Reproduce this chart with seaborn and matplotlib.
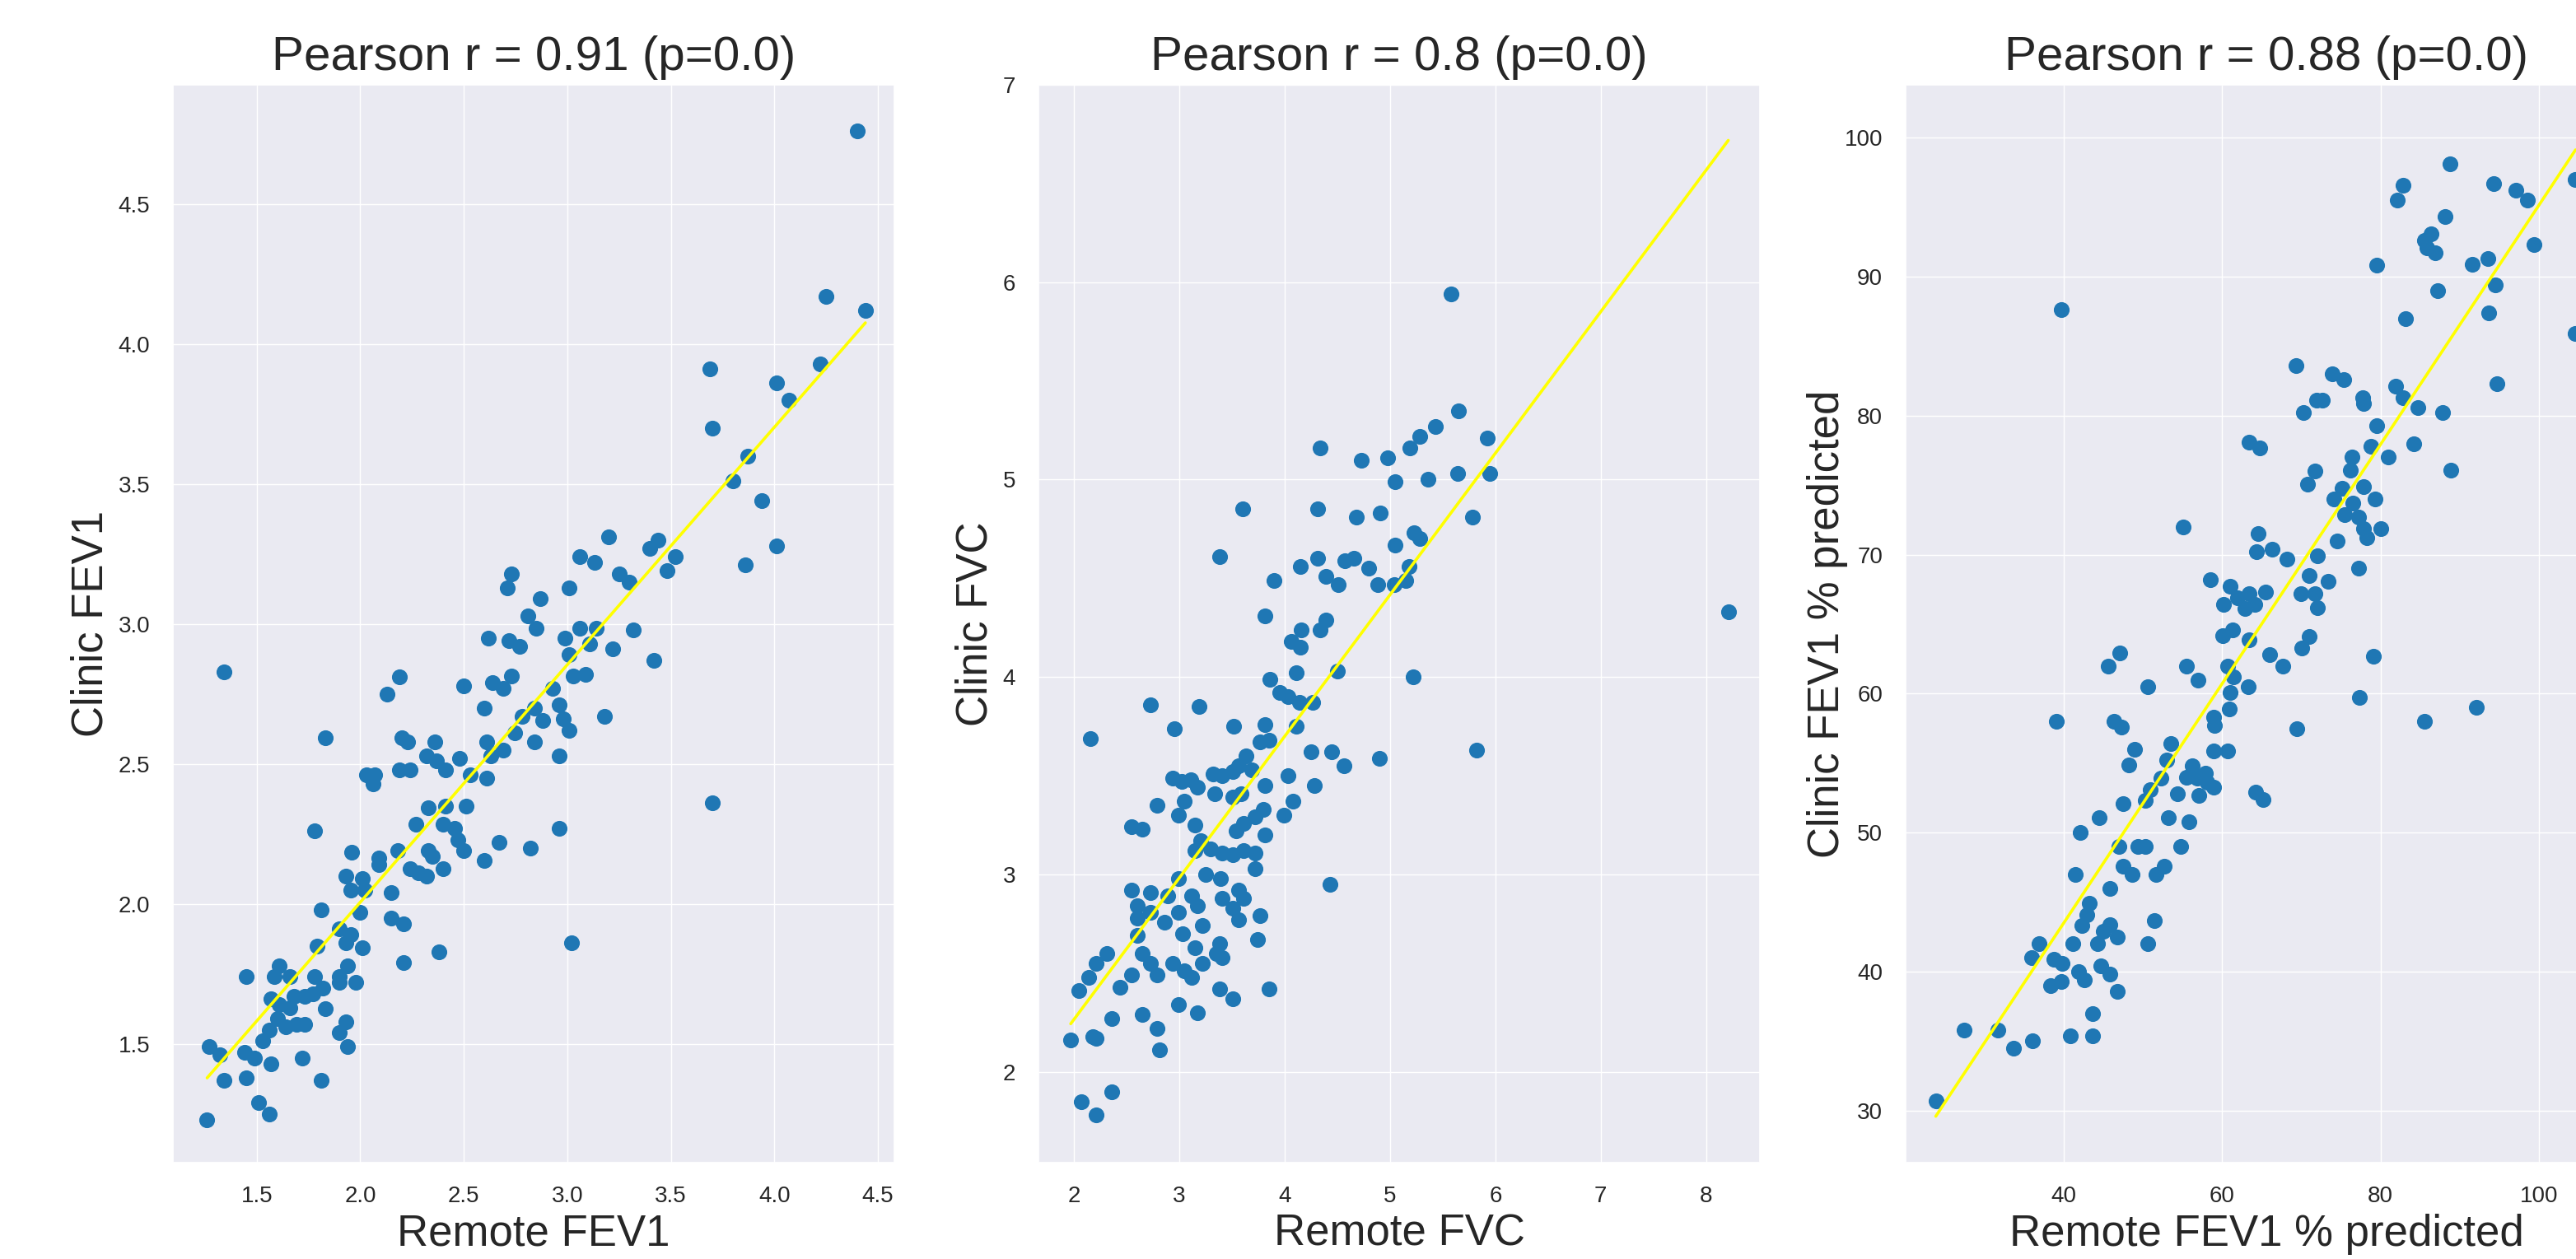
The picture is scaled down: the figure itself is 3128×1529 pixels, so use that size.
import numpy as np
import matplotlib.pyplot as plt
import seaborn as sns
from matplotlib.ticker import MultipleLocator

# FEV1 (litres): remote vs clinic
remote_fev1 = [1.34, 2.19, 2.13, 2.50, 2.60, 2.64, 2.69, 2.73, 2.61, 2.69, 2.63, 2.745, 2.78, 2.84,
               2.88, 2.84, 2.93, 2.96, 2.98, 3.01, 2.96, 3.03, 3.01, 3.09, 2.96, 3.02, 2.82, 2.67,
               2.60, 2.61, 2.51, 2.50, 2.455, 2.41, 2.40, 2.47, 2.40, 2.48, 2.53, 2.41, 2.36, 2.32,
               2.37, 2.33, 2.27, 2.33, 2.35, 2.32, 2.28, 2.24, 2.18, 2.15, 2.15, 2.21, 2.21, 2.38,
               2.19, 2.24, 2.20, 2.23, 2.03, 2.07, 2.06, 2.09, 2.09, 2.01, 1.96, 1.93, 1.955, 2.02,
               2.00, 1.90, 1.955, 1.93, 2.01, 1.94, 1.90, 1.90, 1.98, 1.82, 1.78, 1.77, 1.73, 1.79,
               1.81, 1.78, 1.83, 1.61, 1.585, 1.66, 1.57, 1.61, 1.66, 1.68, 1.83, 1.60, 1.56, 1.64,
               1.69, 1.73, 1.53, 1.45, 1.93, 1.90, 1.94, 1.27, 1.32, 1.44, 1.49, 1.57, 1.72, 1.34,
               1.45, 1.81, 1.51, 1.56, 1.26,
               4.40, 4.25, 4.44, 4.22, 3.69, 4.01, 4.07, 3.70, 3.87, 3.80, 3.94, 4.01, 3.86, 3.20,
               3.06, 3.13, 3.40, 3.44, 3.52, 3.48, 3.25, 3.30, 3.01, 2.73, 2.71, 2.87, 2.81, 2.85,
               2.62, 2.72, 2.77, 2.99, 3.06, 3.14, 3.11, 3.32, 3.22, 3.42, 3.18, 3.70]
clinic_fev1 = [2.83, 2.81, 2.75, 2.78, 2.70, 2.79, 2.77, 2.815, 2.58, 2.55, 2.53, 2.61, 2.67, 2.70,
               2.655, 2.58, 2.77, 2.71, 2.66, 2.62, 2.53, 2.815, 2.89, 2.82, 2.27, 1.86, 2.20, 2.22,
               2.155, 2.45, 2.35, 2.19, 2.27, 2.35, 2.285, 2.23, 2.125, 2.52, 2.46, 2.48, 2.58, 2.53,
               2.51, 2.345, 2.285, 2.19, 2.17, 2.10, 2.11, 2.125, 2.19, 2.04, 1.95, 1.93, 1.79, 1.83,
               2.48, 2.48, 2.595, 2.58, 2.46, 2.46, 2.43, 2.14, 2.165, 2.09, 2.185, 2.10, 2.05, 2.05,
               1.97, 1.91, 1.89, 1.86, 1.845, 1.78, 1.74, 1.72, 1.72, 1.70, 1.74, 1.68, 1.67, 1.85,
               1.98, 2.26, 2.595, 1.78, 1.74, 1.74, 1.66, 1.64, 1.63, 1.67, 1.625, 1.59, 1.55, 1.56,
               1.57, 1.57, 1.51, 1.74, 1.58, 1.54, 1.49, 1.49, 1.46, 1.47, 1.45, 1.43, 1.45, 1.37,
               1.38, 1.37, 1.29, 1.25, 1.23,
               4.76, 4.17, 4.12, 3.93, 3.91, 3.86, 3.80, 3.70, 3.60, 3.51, 3.44, 3.28, 3.21, 3.31,
               3.24, 3.22, 3.27, 3.30, 3.24, 3.19, 3.18, 3.15, 3.13, 3.18, 3.13, 3.09, 3.03, 2.985,
               2.95, 2.94, 2.92, 2.95, 2.985, 2.985, 2.93, 2.98, 2.91, 2.87, 2.67, 2.36]

# FVC (litres): remote vs clinic
remote_fvc = [2.16, 2.73, 3.19, 2.95, 3.52, 3.81, 3.85, 3.77, 3.63, 3.56, 3.69, 3.32, 3.41, 3.51,
              2.94, 3.02, 3.11, 3.17, 3.05, 3.34, 3.51, 3.59, 3.81, 4.03, 4.11, 4.11, 3.86, 3.95,
              4.03, 4.14, 4.27, 4.06, 4.15, 4.16, 4.34, 4.50, 4.25, 4.45, 4.56, 4.28, 4.08, 3.99,
              4.90, 5.22, 4.43, 2.79, 2.99, 3.15, 2.55, 2.65, 3.20, 3.15, 3.30, 3.41, 3.51, 3.61,
              3.72, 3.72, 3.54, 3.61, 3.72, 3.80, 3.81, 2.99, 3.25, 3.39, 2.55, 2.73, 2.89, 2.60,
              2.60, 2.73, 2.86, 2.99, 3.12, 3.17, 3.22, 3.03, 3.41, 3.56, 3.61, 3.51, 3.56, 3.77,
              3.74, 3.38, 3.35, 3.41, 3.15, 3.22, 3.05, 3.12, 2.94, 2.79, 2.73, 2.65, 2.60, 2.31,
              2.21, 2.14, 2.05, 2.44, 2.55, 3.38, 3.51, 3.85, 2.99, 3.17, 2.36, 2.65, 2.79, 2.81,
              1.97, 2.18, 2.21, 2.07, 2.36, 2.21,
              5.58, 5.65, 5.43, 5.28, 5.19, 5.92, 4.73, 4.98, 4.34, 5.05, 5.36, 5.64, 5.95, 4.31,
              4.68, 4.91, 5.78, 5.05, 5.23, 5.28, 4.31, 4.57, 4.66, 4.80, 4.88, 5.04, 5.15, 5.18,
              4.39, 4.51, 8.21,
              3.60, 3.38, 3.90, 4.15, 3.81, 4.39, 5.82]
clinic_fvc = [3.69, 3.86, 3.85, 3.74, 3.75, 3.76, 3.68, 3.67, 3.60, 3.55, 3.53, 3.51, 3.50, 3.52,
              3.49, 3.47, 3.48, 3.44, 3.37, 3.41, 3.39, 3.41, 3.45, 3.50, 3.75, 4.02, 3.99, 3.92,
              3.90, 3.87, 3.87, 4.18, 4.15, 4.24, 4.24, 4.03, 3.62, 3.62, 3.55, 3.45, 3.37, 3.30,
              3.59, 4.00, 2.95, 3.35, 3.30, 3.25, 3.24, 3.23, 3.17, 3.12, 3.13, 3.11, 3.10, 3.12,
              3.11, 3.03, 3.22, 3.26, 3.29, 3.33, 3.20, 2.98, 3.00, 2.98, 2.92, 2.91, 2.89, 2.84,
              2.78, 2.81, 2.76, 2.81, 2.89, 2.84, 2.74, 2.70, 2.88, 2.92, 2.88, 2.83, 2.77, 2.79,
              2.67, 2.65, 2.60, 2.58, 2.63, 2.55, 2.51, 2.48, 2.55, 2.49, 2.55, 2.60, 2.69, 2.60,
              2.55, 2.48, 2.41, 2.43, 2.49, 2.42, 2.37, 2.42, 2.34, 2.30, 2.27, 2.29, 2.22, 2.11,
              2.16, 2.18, 2.17, 1.85, 1.90, 1.78,
              5.94, 5.35, 5.27, 5.22, 5.16, 5.21, 5.10, 5.11, 5.16, 4.99, 5.00, 5.03, 5.03, 4.85,
              4.81, 4.83, 4.81, 4.67, 4.73, 4.70, 4.60, 4.59, 4.60, 4.55, 4.47, 4.47, 4.49, 4.56,
              4.51, 4.47, 4.33,
              4.85, 4.61, 4.49, 4.56, 4.31, 4.29, 3.63]

# FEV1 % predicted: remote vs clinic
remote_pct = [23.9, 27.5, 31.7, 33.7, 36.1, 40.9, 43.7, 43.7, 36.9, 36.0, 38.4, 39.7, 38.8, 39.8,
              41.2, 41.9, 42.6, 44.3, 44.7, 45.9, 46.8, 42.3, 43.0, 43.3, 45.0, 45.9, 46.8, 50.6,
              51.5, 41.5, 45.9, 47.5, 48.7, 51.7, 52.7, 47.0, 49.4, 50.3, 54.8, 42.1, 44.5, 47.5,
              50.3, 51.0, 53.2, 55.8, 54.4, 52.3, 53.0, 53.6, 56.2, 55.5, 56.9, 57.9, 59.0, 57.1,
              58.1, 64.3, 65.2, 59.0, 60.7, 59.0, 59.1, 60.9, 61.0, 63.3, 60.7, 61.4, 46.4, 47.3,
              49.0, 48.3, 50.6, 45.7, 47.1, 55.5, 57.0, 39.1, 67.7, 69.4,
              88.8, 82.8, 82.1, 94.3, 97.1, 98.5, 88.1, 85.5, 86.4, 86.9, 85.9, 99.4, 91.6, 93.5,
              79.5, 94.5, 87.2, 93.6, 83.2, 94.7, 104.6, 104.6, 69.3, 73.9, 75.4, 71.9, 72.7, 70.3,
              77.8, 77.9, 81.9, 82.8, 84.7, 87.8, 79.5, 78.8, 81.0, 84.2, 88.9, 63.4, 64.8, 71.7,
              70.8, 76.4, 76.2, 77.9, 75.2, 74.1, 76.5, 79.3, 75.5, 77.2, 77.9, 78.3, 80.0, 74.5,
              64.6, 64.4, 66.3, 68.2, 55.1, 72.0, 71.0, 73.4, 77.2, 58.5, 61.0, 60.2, 62.0, 63.4,
              65.5, 62.9, 64.1, 60.1, 61.3, 63.4, 70.0, 71.7, 72.0, 71.0, 70.1, 66.0, 79.1,
              39.7, 77.3, 92.1, 85.5]
clinic_pct = [30.7, 35.8, 35.8, 34.5, 35.0, 35.4, 35.4, 37.0, 42.0, 41.0, 39.0, 39.3, 40.9, 40.6,
              42.0, 40.0, 39.4, 42.0, 40.4, 39.8, 38.6, 43.3, 44.1, 44.9, 42.9, 43.4, 42.5, 42.0,
              43.7, 47.0, 46.0, 47.6, 47.0, 47.0, 47.6, 49.0, 49.0, 49.0, 49.0, 50.0, 51.1, 52.1,
              52.3, 53.1, 51.1, 50.8, 52.8, 53.9, 55.2, 56.4, 54.8, 54.0, 53.9, 54.3, 53.3, 52.7,
              53.6, 52.9, 52.4, 55.9, 55.9, 58.3, 57.7, 58.9, 60.1, 60.5, 62.0, 61.2, 58.0, 57.6,
              56.0, 54.9, 60.5, 62.0, 62.9, 62.0, 61.0, 58.0, 62.0, 57.5,
              98.1, 96.6, 95.5, 96.7, 96.2, 95.5, 94.3, 92.6, 93.1, 91.7, 92.1, 92.3, 90.9, 91.3,
              90.8, 89.4, 89.0, 87.4, 87.0, 82.3, 97.0, 85.9, 83.6, 83.0, 82.6, 81.1, 81.1, 80.2,
              81.3, 80.9, 82.1, 81.3, 80.6, 80.2, 79.3, 77.8, 77.0, 78.0, 76.1, 78.1, 77.7, 76.0,
              75.1, 77.0, 76.1, 74.9, 74.8, 74.0, 73.7, 74.0, 72.9, 72.7, 71.9, 71.2, 71.9, 71.0,
              71.5, 70.2, 70.4, 69.7, 72.0, 69.9, 68.5, 68.1, 69.0, 68.2, 67.7, 66.4, 66.9, 67.2,
              67.3, 66.1, 66.4, 64.2, 64.6, 63.9, 67.2, 67.2, 66.2, 64.1, 63.3, 62.8, 62.7,
              87.6, 59.7, 59.0, 58.0]

titles = ['Pearson r = 0.91 (p=0.0)', 'Pearson r = 0.8 (p=0.0)', 'Pearson r = 0.88 (p=0.0)']
xlabels = ['Remote FEV1', 'Remote FVC', 'Remote FEV1 % predicted']
ylabels = ['Clinic FEV1', 'Clinic FVC', 'Clinic FEV1 % predicted']

sns.set_theme(style='darkgrid')
plt.rcParams['font.family'] = ['Liberation Sans', 'DejaVu Sans']

fig = plt.figure(figsize=(31.28, 15.29), dpi=100)
W, H = 3128, 1529
lefts = [210, 1261, 2314]
axes = [fig.add_axes([l / W, 117 / H, 876 / W, 1309 / H]) for l in lefts]

panels = [(remote_fev1, clinic_fev1), (remote_fvc, clinic_fvc), (remote_pct, clinic_pct)]
xlims = [(1.095, 4.58), (1.664, 8.51), (20.1, 111.1)]
ylims = [(1.076, 4.926), (1.54, 7.0), (26.26, 103.8)]
xsteps = [0.5, 1, 20]
ysteps = [0.5, 1, 10]
ylab_x = [-0.085, -0.059, -0.080]

for i, ax in enumerate(axes):
    x, y = np.array(panels[i][0]), np.array(panels[i][1])
    sns.scatterplot(x=x, y=y, ax=ax, color='#1f77b4', s=190, linewidth=0)
    # least squares fit line across the data range
    m, b = np.polyfit(x, y, 1)
    xs = np.array([x.min(), x.max()])
    ax.plot(xs, m * xs + b, color='yellow', lw=2.6)
    ax.set_xlim(xlims[i])
    ax.set_ylim(ylims[i])
    ax.xaxis.set_major_locator(MultipleLocator(xsteps[i]))
    ax.yaxis.set_major_locator(MultipleLocator(ysteps[i]))
    ax.tick_params(labelsize=20, pad=14)
    ax.set_title(titles[i], fontsize=42, pad=13)
    ax.set_xlabel(xlabels[i], fontsize=38)
    ax.set_ylabel(ylabels[i], fontsize=38)
    ax.xaxis.set_label_coords(0.5, -0.047)
    ax.yaxis.set_label_coords(ylab_x[i], 0.5)

fig.savefig('out.png', dpi=100)
